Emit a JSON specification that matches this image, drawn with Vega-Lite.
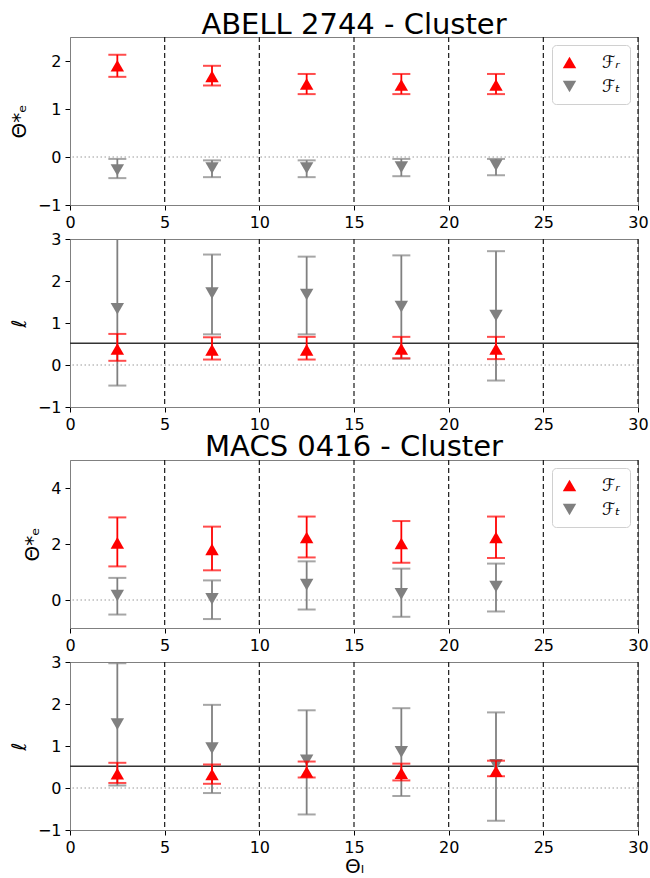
{
  "$schema": "https://vega.github.io/schema/vega-lite/v6.json",
  "padding": {"left": 8, "top": 10, "right": 2, "bottom": 0},
  "config": {
    "font": "DejaVu Sans",
    "view": {"stroke": "#808080", "strokeWidth": 1},
    "axis": {"grid": false, "domainColor": "#808080", "tickColor": "#000000", "tickSize": 5, "labelFontSize": 16, "labelColor": "#000000", "labelPadding": 4, "titleFontSize": 20, "titleFontWeight": "normal", "titleColor": "#000000", "labelFlush": false, "labelOverlap": false, "format": "d"},
    "title": {"fontSize": 29, "fontWeight": "normal", "color": "#000000", "offset": -4}
  },
  "datasets": {
    "one": [{}],
    "vlines": [{"theta_L": 5}, {"theta_L": 10}, {"theta_L": 15}, {"theta_L": 20}, {"theta_L": 25}, {"theta_L": 30}],
    "pts": [
      {"cluster": "ABELL 2744", "quantity": "theta", "series": "F_T", "theta_L": 2.5, "value": -0.27, "lo": -0.44, "hi": -0.04},
      {"cluster": "ABELL 2744", "quantity": "theta", "series": "F_T", "theta_L": 7.5, "value": -0.23, "lo": -0.42, "hi": -0.07},
      {"cluster": "ABELL 2744", "quantity": "theta", "series": "F_T", "theta_L": 12.5, "value": -0.23, "lo": -0.42, "hi": -0.07},
      {"cluster": "ABELL 2744", "quantity": "theta", "series": "F_T", "theta_L": 17.5, "value": -0.21, "lo": -0.40, "hi": -0.04},
      {"cluster": "ABELL 2744", "quantity": "theta", "series": "F_T", "theta_L": 22.5, "value": -0.17, "lo": -0.38, "hi": -0.04},
      {"cluster": "ABELL 2744", "quantity": "theta", "series": "F_R", "theta_L": 2.5, "value": 1.90, "lo": 1.67, "hi": 2.13},
      {"cluster": "ABELL 2744", "quantity": "theta", "series": "F_R", "theta_L": 7.5, "value": 1.68, "lo": 1.49, "hi": 1.90},
      {"cluster": "ABELL 2744", "quantity": "theta", "series": "F_R", "theta_L": 12.5, "value": 1.52, "lo": 1.31, "hi": 1.73},
      {"cluster": "ABELL 2744", "quantity": "theta", "series": "F_R", "theta_L": 17.5, "value": 1.50, "lo": 1.31, "hi": 1.73},
      {"cluster": "ABELL 2744", "quantity": "theta", "series": "F_R", "theta_L": 22.5, "value": 1.50, "lo": 1.31, "hi": 1.73},
      {"cluster": "ABELL 2744", "quantity": "ell", "series": "F_T", "theta_L": 2.5, "value": 1.34, "lo": -0.49, "hi": 3.25},
      {"cluster": "ABELL 2744", "quantity": "ell", "series": "F_T", "theta_L": 7.5, "value": 1.71, "lo": 0.73, "hi": 2.63},
      {"cluster": "ABELL 2744", "quantity": "ell", "series": "F_T", "theta_L": 12.5, "value": 1.68, "lo": 0.73, "hi": 2.58},
      {"cluster": "ABELL 2744", "quantity": "ell", "series": "F_T", "theta_L": 17.5, "value": 1.39, "lo": 0.15, "hi": 2.61},
      {"cluster": "ABELL 2744", "quantity": "ell", "series": "F_T", "theta_L": 22.5, "value": 1.18, "lo": -0.37, "hi": 2.71},
      {"cluster": "ABELL 2744", "quantity": "ell", "series": "F_R", "theta_L": 2.5, "value": 0.38, "lo": 0.10, "hi": 0.74},
      {"cluster": "ABELL 2744", "quantity": "ell", "series": "F_R", "theta_L": 7.5, "value": 0.36, "lo": 0.13, "hi": 0.66},
      {"cluster": "ABELL 2744", "quantity": "ell", "series": "F_R", "theta_L": 12.5, "value": 0.36, "lo": 0.13, "hi": 0.67},
      {"cluster": "ABELL 2744", "quantity": "ell", "series": "F_R", "theta_L": 17.5, "value": 0.38, "lo": 0.16, "hi": 0.67},
      {"cluster": "ABELL 2744", "quantity": "ell", "series": "F_R", "theta_L": 22.5, "value": 0.38, "lo": 0.14, "hi": 0.67},
      {"cluster": "MACS 0416", "quantity": "theta", "series": "F_T", "theta_L": 2.5, "value": 0.16, "lo": -0.52, "hi": 0.79},
      {"cluster": "MACS 0416", "quantity": "theta", "series": "F_T", "theta_L": 7.5, "value": 0.04, "lo": -0.68, "hi": 0.70},
      {"cluster": "MACS 0416", "quantity": "theta", "series": "F_T", "theta_L": 12.5, "value": 0.55, "lo": -0.34, "hi": 1.38},
      {"cluster": "MACS 0416", "quantity": "theta", "series": "F_T", "theta_L": 17.5, "value": 0.22, "lo": -0.60, "hi": 1.12},
      {"cluster": "MACS 0416", "quantity": "theta", "series": "F_T", "theta_L": 22.5, "value": 0.48, "lo": -0.41, "hi": 1.30},
      {"cluster": "MACS 0416", "quantity": "theta", "series": "F_R", "theta_L": 2.5, "value": 2.04, "lo": 1.20, "hi": 2.95},
      {"cluster": "MACS 0416", "quantity": "theta", "series": "F_R", "theta_L": 7.5, "value": 1.81, "lo": 1.06, "hi": 2.62},
      {"cluster": "MACS 0416", "quantity": "theta", "series": "F_R", "theta_L": 12.5, "value": 2.23, "lo": 1.52, "hi": 2.98},
      {"cluster": "MACS 0416", "quantity": "theta", "series": "F_R", "theta_L": 17.5, "value": 2.02, "lo": 1.33, "hi": 2.82},
      {"cluster": "MACS 0416", "quantity": "theta", "series": "F_R", "theta_L": 22.5, "value": 2.23, "lo": 1.50, "hi": 2.98},
      {"cluster": "MACS 0416", "quantity": "ell", "series": "F_T", "theta_L": 2.5, "value": 1.52, "lo": 0.06, "hi": 2.97},
      {"cluster": "MACS 0416", "quantity": "ell", "series": "F_T", "theta_L": 7.5, "value": 0.95, "lo": -0.12, "hi": 1.98},
      {"cluster": "MACS 0416", "quantity": "ell", "series": "F_T", "theta_L": 12.5, "value": 0.66, "lo": -0.63, "hi": 1.85},
      {"cluster": "MACS 0416", "quantity": "ell", "series": "F_T", "theta_L": 17.5, "value": 0.86, "lo": -0.19, "hi": 1.90},
      {"cluster": "MACS 0416", "quantity": "ell", "series": "F_T", "theta_L": 22.5, "value": 0.55, "lo": -0.78, "hi": 1.80},
      {"cluster": "MACS 0416", "quantity": "ell", "series": "F_R", "theta_L": 2.5, "value": 0.34, "lo": 0.12, "hi": 0.60},
      {"cluster": "MACS 0416", "quantity": "ell", "series": "F_R", "theta_L": 7.5, "value": 0.32, "lo": 0.10, "hi": 0.56},
      {"cluster": "MACS 0416", "quantity": "ell", "series": "F_R", "theta_L": 12.5, "value": 0.38, "lo": 0.25, "hi": 0.63},
      {"cluster": "MACS 0416", "quantity": "ell", "series": "F_R", "theta_L": 17.5, "value": 0.35, "lo": 0.18, "hi": 0.58},
      {"cluster": "MACS 0416", "quantity": "ell", "series": "F_R", "theta_L": 22.5, "value": 0.40, "lo": 0.28, "hi": 0.65}
    ]
  },
  "resolve": {"scale": {"color": "independent", "shape": "independent"}, "legend": {"color": "independent", "shape": "independent"}},
  "spacing": -1,
  "vconcat": [
    {
      "width": 568, "height": 168,
      "title": {"text": "ABELL 2744 - Cluster"},
      "layer": [
        {"data": {"name": "vlines"}, "mark": {"type": "rule", "color": "#1a1a1a", "strokeWidth": 1.2, "strokeDash": [5, 3]},
         "encoding": {"x": {"field": "theta_L", "type": "quantitative", "scale": {"domain": [0, 30], "nice": false}, "axis": {"values": [0, 5, 10, 15, 20, 25, 30]}, "title": null}}},
        {"data": {"name": "one"}, "mark": {"type": "rule", "color": "#999999", "strokeWidth": 1, "strokeDash": [1.5, 2.5]},
         "encoding": {"y": {"datum": 0, "type": "quantitative", "scale": {"domain": [-1, 2.5], "nice": false, "zero": false}, "axis": {"values": [-1, 0, 1, 2], "titlePadding": 8}, "title": "Θ*ₑ"}}},
        {"data": {"name": "pts"}, "transform": [{"filter": "datum.cluster === 'ABELL 2744' && datum.quantity === 'theta' && datum.series === 'F_T'"}],
         "mark": {"type": "rule", "color": "#808080", "strokeWidth": 1.8, "clip": true},
         "encoding": {"x": {"field": "theta_L", "type": "quantitative", "title": null}, "y": {"field": "lo", "type": "quantitative", "title": "Θ*ₑ"}, "y2": {"field": "hi"}}},
        {"data": {"name": "pts"}, "transform": [{"filter": "datum.cluster === 'ABELL 2744' && datum.quantity === 'theta' && datum.series === 'F_T'"}, {"fold": ["lo", "hi"], "as": ["bound", "bval"]}],
         "mark": {"type": "tick", "orient": "horizontal", "color": "#808080", "size": 18, "thickness": 2, "clip": true},
         "encoding": {"x": {"field": "theta_L", "type": "quantitative", "title": null}, "y": {"field": "bval", "type": "quantitative", "title": "Θ*ₑ"}}},
        {"data": {"name": "pts"}, "transform": [{"filter": "datum.cluster === 'ABELL 2744' && datum.quantity === 'theta' && datum.series === 'F_T'"}],
         "mark": {"type": "point", "filled": true, "opacity": 1, "size": 180},
         "encoding": {"x": {"field": "theta_L", "type": "quantitative", "title": null}, "y": {"field": "value", "type": "quantitative", "title": "Θ*ₑ"},
           "color": {"field": "series", "type": "nominal", "scale": {"domain": ["F_R", "F_T"], "range": ["#ff0000", "#808080"]}, "legend": {"title": null, "orient": "top-right", "offset": 8, "labelExpr": "datum.label === 'F_R' ? 'ℱᵣ' : 'ℱₜ'", "symbolSize": 180, "labelFontSize": 17, "labelFontStyle": "italic", "padding": 9, "rowPadding": 6, "labelOffset": 24, "strokeColor": "#d0d0d0", "fillColor": "#ffffff", "cornerRadius": 4, "symbolStrokeWidth": 0}},
           "shape": {"field": "series", "type": "nominal", "scale": {"domain": ["F_R", "F_T"], "range": ["triangle-up", "triangle-down"]}, "legend": {"title": null, "orient": "top-right", "offset": 8, "labelExpr": "datum.label === 'F_R' ? 'ℱᵣ' : 'ℱₜ'", "symbolSize": 180, "labelFontSize": 17, "labelFontStyle": "italic", "padding": 9, "rowPadding": 6, "labelOffset": 24, "strokeColor": "#d0d0d0", "fillColor": "#ffffff", "cornerRadius": 4, "symbolStrokeWidth": 0}}}},
        {"data": {"name": "pts"}, "transform": [{"filter": "datum.cluster === 'ABELL 2744' && datum.quantity === 'theta' && datum.series === 'F_R'"}],
         "mark": {"type": "rule", "color": "#ff0000", "strokeWidth": 1.8, "clip": true},
         "encoding": {"x": {"field": "theta_L", "type": "quantitative", "title": null}, "y": {"field": "lo", "type": "quantitative", "title": "Θ*ₑ"}, "y2": {"field": "hi"}}},
        {"data": {"name": "pts"}, "transform": [{"filter": "datum.cluster === 'ABELL 2744' && datum.quantity === 'theta' && datum.series === 'F_R'"}, {"fold": ["lo", "hi"], "as": ["bound", "bval"]}],
         "mark": {"type": "tick", "orient": "horizontal", "color": "#ff0000", "size": 18, "thickness": 2, "clip": true},
         "encoding": {"x": {"field": "theta_L", "type": "quantitative", "title": null}, "y": {"field": "bval", "type": "quantitative", "title": "Θ*ₑ"}}},
        {"data": {"name": "pts"}, "transform": [{"filter": "datum.cluster === 'ABELL 2744' && datum.quantity === 'theta' && datum.series === 'F_R'"}],
         "mark": {"type": "point", "filled": true, "opacity": 1, "size": 180},
         "encoding": {"x": {"field": "theta_L", "type": "quantitative", "title": null}, "y": {"field": "value", "type": "quantitative", "title": "Θ*ₑ"},
           "color": {"field": "series", "type": "nominal", "scale": {"domain": ["F_R", "F_T"], "range": ["#ff0000", "#808080"]}},
           "shape": {"field": "series", "type": "nominal", "scale": {"domain": ["F_R", "F_T"], "range": ["triangle-up", "triangle-down"]}}}}
      ]
    },
    {
      "width": 568, "height": 168,
      "layer": [
        {"data": {"name": "vlines"}, "mark": {"type": "rule", "color": "#1a1a1a", "strokeWidth": 1.2, "strokeDash": [5, 3]},
         "encoding": {"x": {"field": "theta_L", "type": "quantitative", "scale": {"domain": [0, 30], "nice": false}, "axis": {"values": [0, 5, 10, 15, 20, 25, 30]}, "title": null}}},
        {"data": {"name": "one"}, "mark": {"type": "rule", "color": "#999999", "strokeWidth": 1, "strokeDash": [1.5, 2.5]},
         "encoding": {"y": {"datum": 0, "type": "quantitative", "scale": {"domain": [-1, 3], "nice": false, "zero": false}, "axis": {"values": [-1, 0, 1, 2, 3], "titlePadding": 8}, "title": "ℓ"}}},
        {"data": {"name": "one"}, "mark": {"type": "rule", "color": "#333333", "strokeWidth": 1.5},
         "encoding": {"y": {"datum": 0.515, "type": "quantitative", "title": "ℓ"}}},
        {"data": {"name": "pts"}, "transform": [{"filter": "datum.cluster === 'ABELL 2744' && datum.quantity === 'ell' && datum.series === 'F_T'"}],
         "mark": {"type": "rule", "color": "#808080", "strokeWidth": 1.8, "clip": true},
         "encoding": {"x": {"field": "theta_L", "type": "quantitative", "title": null}, "y": {"field": "lo", "type": "quantitative", "title": "ℓ"}, "y2": {"field": "hi"}}},
        {"data": {"name": "pts"}, "transform": [{"filter": "datum.cluster === 'ABELL 2744' && datum.quantity === 'ell' && datum.series === 'F_T'"}, {"fold": ["lo", "hi"], "as": ["bound", "bval"]}],
         "mark": {"type": "tick", "orient": "horizontal", "color": "#808080", "size": 18, "thickness": 2, "clip": true},
         "encoding": {"x": {"field": "theta_L", "type": "quantitative", "title": null}, "y": {"field": "bval", "type": "quantitative", "title": "ℓ"}}},
        {"data": {"name": "pts"}, "transform": [{"filter": "datum.cluster === 'ABELL 2744' && datum.quantity === 'ell' && datum.series === 'F_T'"}],
         "mark": {"type": "point", "filled": true, "opacity": 1, "size": 180},
         "encoding": {"x": {"field": "theta_L", "type": "quantitative", "title": null}, "y": {"field": "value", "type": "quantitative", "title": "ℓ"},
           "color": {"field": "series", "type": "nominal", "scale": {"domain": ["F_R", "F_T"], "range": ["#ff0000", "#808080"]}, "legend": null},
           "shape": {"field": "series", "type": "nominal", "scale": {"domain": ["F_R", "F_T"], "range": ["triangle-up", "triangle-down"]}, "legend": null}}},
        {"data": {"name": "pts"}, "transform": [{"filter": "datum.cluster === 'ABELL 2744' && datum.quantity === 'ell' && datum.series === 'F_R'"}],
         "mark": {"type": "rule", "color": "#ff0000", "strokeWidth": 1.8, "clip": true},
         "encoding": {"x": {"field": "theta_L", "type": "quantitative", "title": null}, "y": {"field": "lo", "type": "quantitative", "title": "ℓ"}, "y2": {"field": "hi"}}},
        {"data": {"name": "pts"}, "transform": [{"filter": "datum.cluster === 'ABELL 2744' && datum.quantity === 'ell' && datum.series === 'F_R'"}, {"fold": ["lo", "hi"], "as": ["bound", "bval"]}],
         "mark": {"type": "tick", "orient": "horizontal", "color": "#ff0000", "size": 18, "thickness": 2, "clip": true},
         "encoding": {"x": {"field": "theta_L", "type": "quantitative", "title": null}, "y": {"field": "bval", "type": "quantitative", "title": "ℓ"}}},
        {"data": {"name": "pts"}, "transform": [{"filter": "datum.cluster === 'ABELL 2744' && datum.quantity === 'ell' && datum.series === 'F_R'"}],
         "mark": {"type": "point", "filled": true, "opacity": 1, "size": 180},
         "encoding": {"x": {"field": "theta_L", "type": "quantitative", "title": null}, "y": {"field": "value", "type": "quantitative", "title": "ℓ"},
           "color": {"field": "series", "type": "nominal", "scale": {"domain": ["F_R", "F_T"], "range": ["#ff0000", "#808080"]}, "legend": null},
           "shape": {"field": "series", "type": "nominal", "scale": {"domain": ["F_R", "F_T"], "range": ["triangle-up", "triangle-down"]}, "legend": null}}}
      ]
    },
    {
      "width": 568, "height": 168,
      "title": {"text": "MACS 0416 - Cluster", "offset": -3},
      "layer": [
        {"data": {"name": "vlines"}, "mark": {"type": "rule", "color": "#1a1a1a", "strokeWidth": 1.2, "strokeDash": [5, 3]},
         "encoding": {"x": {"field": "theta_L", "type": "quantitative", "scale": {"domain": [0, 30], "nice": false}, "axis": {"values": [0, 5, 10, 15, 20, 25, 30]}, "title": null}}},
        {"data": {"name": "one"}, "mark": {"type": "rule", "color": "#999999", "strokeWidth": 1, "strokeDash": [1.5, 2.5]},
         "encoding": {"y": {"datum": 0, "type": "quantitative", "scale": {"domain": [-1, 5], "nice": false, "zero": false}, "axis": {"values": [0, 2, 4], "titlePadding": 8}, "title": "Θ*ₑ"}}},
        {"data": {"name": "pts"}, "transform": [{"filter": "datum.cluster === 'MACS 0416' && datum.quantity === 'theta' && datum.series === 'F_T'"}],
         "mark": {"type": "rule", "color": "#808080", "strokeWidth": 1.8, "clip": true},
         "encoding": {"x": {"field": "theta_L", "type": "quantitative", "title": null}, "y": {"field": "lo", "type": "quantitative", "title": "Θ*ₑ"}, "y2": {"field": "hi"}}},
        {"data": {"name": "pts"}, "transform": [{"filter": "datum.cluster === 'MACS 0416' && datum.quantity === 'theta' && datum.series === 'F_T'"}, {"fold": ["lo", "hi"], "as": ["bound", "bval"]}],
         "mark": {"type": "tick", "orient": "horizontal", "color": "#808080", "size": 18, "thickness": 2, "clip": true},
         "encoding": {"x": {"field": "theta_L", "type": "quantitative", "title": null}, "y": {"field": "bval", "type": "quantitative", "title": "Θ*ₑ"}}},
        {"data": {"name": "pts"}, "transform": [{"filter": "datum.cluster === 'MACS 0416' && datum.quantity === 'theta' && datum.series === 'F_T'"}],
         "mark": {"type": "point", "filled": true, "opacity": 1, "size": 180},
         "encoding": {"x": {"field": "theta_L", "type": "quantitative", "title": null}, "y": {"field": "value", "type": "quantitative", "title": "Θ*ₑ"},
           "color": {"field": "series", "type": "nominal", "scale": {"domain": ["F_R", "F_T"], "range": ["#ff0000", "#808080"]}, "legend": {"title": null, "orient": "top-right", "offset": 8, "labelExpr": "datum.label === 'F_R' ? 'ℱᵣ' : 'ℱₜ'", "symbolSize": 180, "labelFontSize": 17, "labelFontStyle": "italic", "padding": 9, "rowPadding": 6, "labelOffset": 24, "strokeColor": "#d0d0d0", "fillColor": "#ffffff", "cornerRadius": 4, "symbolStrokeWidth": 0}},
           "shape": {"field": "series", "type": "nominal", "scale": {"domain": ["F_R", "F_T"], "range": ["triangle-up", "triangle-down"]}, "legend": {"title": null, "orient": "top-right", "offset": 8, "labelExpr": "datum.label === 'F_R' ? 'ℱᵣ' : 'ℱₜ'", "symbolSize": 180, "labelFontSize": 17, "labelFontStyle": "italic", "padding": 9, "rowPadding": 6, "labelOffset": 24, "strokeColor": "#d0d0d0", "fillColor": "#ffffff", "cornerRadius": 4, "symbolStrokeWidth": 0}}}},
        {"data": {"name": "pts"}, "transform": [{"filter": "datum.cluster === 'MACS 0416' && datum.quantity === 'theta' && datum.series === 'F_R'"}],
         "mark": {"type": "rule", "color": "#ff0000", "strokeWidth": 1.8, "clip": true},
         "encoding": {"x": {"field": "theta_L", "type": "quantitative", "title": null}, "y": {"field": "lo", "type": "quantitative", "title": "Θ*ₑ"}, "y2": {"field": "hi"}}},
        {"data": {"name": "pts"}, "transform": [{"filter": "datum.cluster === 'MACS 0416' && datum.quantity === 'theta' && datum.series === 'F_R'"}, {"fold": ["lo", "hi"], "as": ["bound", "bval"]}],
         "mark": {"type": "tick", "orient": "horizontal", "color": "#ff0000", "size": 18, "thickness": 2, "clip": true},
         "encoding": {"x": {"field": "theta_L", "type": "quantitative", "title": null}, "y": {"field": "bval", "type": "quantitative", "title": "Θ*ₑ"}}},
        {"data": {"name": "pts"}, "transform": [{"filter": "datum.cluster === 'MACS 0416' && datum.quantity === 'theta' && datum.series === 'F_R'"}],
         "mark": {"type": "point", "filled": true, "opacity": 1, "size": 180},
         "encoding": {"x": {"field": "theta_L", "type": "quantitative", "title": null}, "y": {"field": "value", "type": "quantitative", "title": "Θ*ₑ"},
           "color": {"field": "series", "type": "nominal", "scale": {"domain": ["F_R", "F_T"], "range": ["#ff0000", "#808080"]}},
           "shape": {"field": "series", "type": "nominal", "scale": {"domain": ["F_R", "F_T"], "range": ["triangle-up", "triangle-down"]}}}}
      ]
    },
    {
      "width": 568, "height": 168,
      "layer": [
        {"data": {"name": "vlines"}, "mark": {"type": "rule", "color": "#1a1a1a", "strokeWidth": 1.2, "strokeDash": [5, 3]},
         "encoding": {"x": {"field": "theta_L", "type": "quantitative", "scale": {"domain": [0, 30], "nice": false}, "axis": {"values": [0, 5, 10, 15, 20, 25, 30], "titlePadding": 1}, "title": "Θₗ"}}},
        {"data": {"name": "one"}, "mark": {"type": "rule", "color": "#999999", "strokeWidth": 1, "strokeDash": [1.5, 2.5]},
         "encoding": {"y": {"datum": 0, "type": "quantitative", "scale": {"domain": [-1, 3], "nice": false, "zero": false}, "axis": {"values": [-1, 0, 1, 2, 3], "titlePadding": 8}, "title": "ℓ"}}},
        {"data": {"name": "one"}, "mark": {"type": "rule", "color": "#333333", "strokeWidth": 1.5},
         "encoding": {"y": {"datum": 0.515, "type": "quantitative", "title": "ℓ"}}},
        {"data": {"name": "pts"}, "transform": [{"filter": "datum.cluster === 'MACS 0416' && datum.quantity === 'ell' && datum.series === 'F_T'"}],
         "mark": {"type": "rule", "color": "#808080", "strokeWidth": 1.8, "clip": true},
         "encoding": {"x": {"field": "theta_L", "type": "quantitative", "title": "Θₗ"}, "y": {"field": "lo", "type": "quantitative", "title": "ℓ"}, "y2": {"field": "hi"}}},
        {"data": {"name": "pts"}, "transform": [{"filter": "datum.cluster === 'MACS 0416' && datum.quantity === 'ell' && datum.series === 'F_T'"}, {"fold": ["lo", "hi"], "as": ["bound", "bval"]}],
         "mark": {"type": "tick", "orient": "horizontal", "color": "#808080", "size": 18, "thickness": 2, "clip": true},
         "encoding": {"x": {"field": "theta_L", "type": "quantitative", "title": "Θₗ"}, "y": {"field": "bval", "type": "quantitative", "title": "ℓ"}}},
        {"data": {"name": "pts"}, "transform": [{"filter": "datum.cluster === 'MACS 0416' && datum.quantity === 'ell' && datum.series === 'F_T'"}],
         "mark": {"type": "point", "filled": true, "opacity": 1, "size": 180},
         "encoding": {"x": {"field": "theta_L", "type": "quantitative", "title": "Θₗ"}, "y": {"field": "value", "type": "quantitative", "title": "ℓ"},
           "color": {"field": "series", "type": "nominal", "scale": {"domain": ["F_R", "F_T"], "range": ["#ff0000", "#808080"]}, "legend": null},
           "shape": {"field": "series", "type": "nominal", "scale": {"domain": ["F_R", "F_T"], "range": ["triangle-up", "triangle-down"]}, "legend": null}}},
        {"data": {"name": "pts"}, "transform": [{"filter": "datum.cluster === 'MACS 0416' && datum.quantity === 'ell' && datum.series === 'F_R'"}],
         "mark": {"type": "rule", "color": "#ff0000", "strokeWidth": 1.8, "clip": true},
         "encoding": {"x": {"field": "theta_L", "type": "quantitative", "title": "Θₗ"}, "y": {"field": "lo", "type": "quantitative", "title": "ℓ"}, "y2": {"field": "hi"}}},
        {"data": {"name": "pts"}, "transform": [{"filter": "datum.cluster === 'MACS 0416' && datum.quantity === 'ell' && datum.series === 'F_R'"}, {"fold": ["lo", "hi"], "as": ["bound", "bval"]}],
         "mark": {"type": "tick", "orient": "horizontal", "color": "#ff0000", "size": 18, "thickness": 2, "clip": true},
         "encoding": {"x": {"field": "theta_L", "type": "quantitative", "title": "Θₗ"}, "y": {"field": "bval", "type": "quantitative", "title": "ℓ"}}},
        {"data": {"name": "pts"}, "transform": [{"filter": "datum.cluster === 'MACS 0416' && datum.quantity === 'ell' && datum.series === 'F_R'"}],
         "mark": {"type": "point", "filled": true, "opacity": 1, "size": 180},
         "encoding": {"x": {"field": "theta_L", "type": "quantitative", "title": "Θₗ"}, "y": {"field": "value", "type": "quantitative", "title": "ℓ"},
           "color": {"field": "series", "type": "nominal", "scale": {"domain": ["F_R", "F_T"], "range": ["#ff0000", "#808080"]}, "legend": null},
           "shape": {"field": "series", "type": "nominal", "scale": {"domain": ["F_R", "F_T"], "range": ["triangle-up", "triangle-down"]}, "legend": null}}}
      ]
    }
  ]
}
